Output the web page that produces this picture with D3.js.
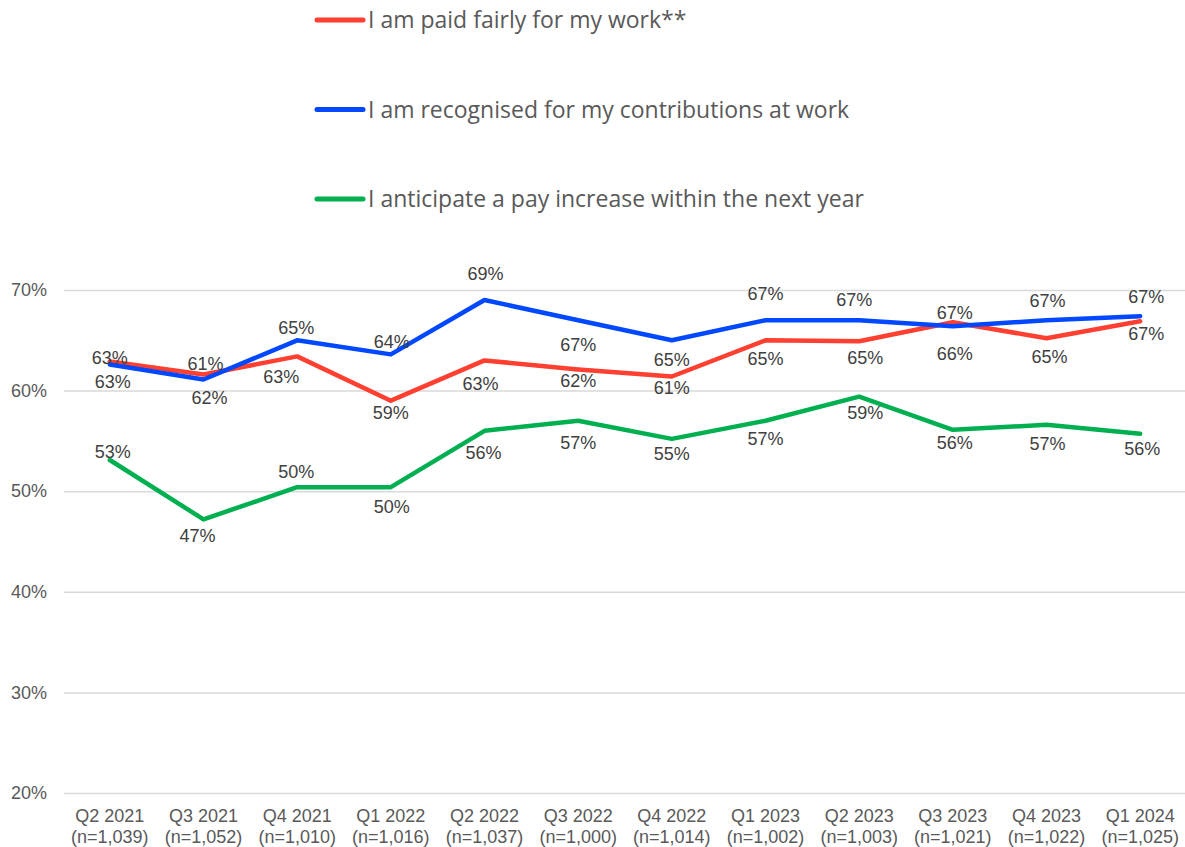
<!DOCTYPE html>
<html>
<head>
<meta charset="utf-8">
<script src="https://cdn.jsdelivr.net/npm/d3@7"></script>
<style>
  html, body { margin: 0; padding: 0; background: #ffffff; }
  svg { display: block; }
</style>
</head>
<body>
<svg id="chart" width="1185" height="847"></svg>
<script>
// Survey quarters and sample sizes
const quarters = ["Q2 2021", "Q3 2021", "Q4 2021", "Q1 2022", "Q2 2022", "Q3 2022",
                  "Q4 2022", "Q1 2023", "Q2 2023", "Q3 2023", "Q4 2023", "Q1 2024"];
const sampleSizes = ["1,039", "1,052", "1,010", "1,016", "1,037", "1,000",
                     "1,014", "1,002", "1,003", "1,021", "1,022", "1,025"];

// Share agreeing with each statement (%)
const paidFairly = [62.9, 61.6, 63.4, 59.0, 63.0, 62.1, 61.4, 65.0, 64.9, 66.8, 65.2, 66.9];
const recognised = [62.6, 61.1, 65.0, 63.6, 69.0, 67.0, 65.0, 67.0, 67.0, 66.4, 67.0, 67.4];
const payIncrease = [53.1, 47.2, 50.4, 50.4, 56.0, 57.0, 55.2, 57.0, 59.4, 56.1, 56.6, 55.7];

const seriesNames = ["I am paid fairly for my work**",
                     "I am recognised for my contributions at work",
                     "I anticipate a pay increase within the next year"];

const yTicks = [20, 30, 40, 50, 60, 70];

// Label nudges (px) so that value labels do not collide: [dx, dy] from the point
const paidFairlyLabelShift = [[0,-4],[6,23],[-16,20],[0,12],[-4,23],[0,11],[0,11],[0,18],[6,16],[2,-9],[3,18],[6,13]];
const recognisedLabelShift = [[3,17],[2,-16],[-1,-13],[1,-13],[1,-26],[0,25],[0,19],[0,-26],[-5,-20],[2,27],[1,-19],[6,-19]];
const payIncreaseLabelShift = [[3,-8],[-6,16],[-1,-15],[1,20],[-1,22],[0,22],[0,15],[0,18],[6,16],[2,13],[1,19],[2,15]];

const colors = ["#ff3f30", "#0048ff", "#00b050"];

const series = [
  { name: seriesNames[0], values: paidFairly, shift: paidFairlyLabelShift, color: colors[0] },
  { name: seriesNames[1], values: recognised, shift: recognisedLabelShift, color: colors[1] },
  { name: seriesNames[2], values: payIncrease, shift: payIncreaseLabelShift, color: colors[2] }
];

const svg = d3.select("#chart");
const axisFont = "'Liberation Sans', Arial, sans-serif";

const x = d3.scaleBand().domain(quarters).range([63, 1187]).padding(0);
const cx = q => x(q) + x.bandwidth() / 2;
const y = d3.scaleLinear().domain([20, 70]).range([793, 290]);

// Horizontal gridlines
const yAxis = d3.axisLeft(y)
  .tickValues(yTicks)
  .tickSize(-(1187 - 64))
  .tickFormat(d => d + "%")
  .tickPadding(17);

const gy = svg.append("g").attr("transform", "translate(64,0)").call(yAxis);
gy.select(".domain").remove();
gy.selectAll(".tick line").attr("stroke", "#d9d9d9").attr("stroke-width", 1.5);
gy.selectAll(".tick text")
  .attr("fill", "#595959")
  .style("font-family", axisFont)
  .style("font-size", "18px");

// Category axis with two-line labels
const xAxis = d3.axisBottom(x).tickSize(0).tickFormat("");
const gx = svg.append("g").attr("transform", "translate(0,793)").call(xAxis);
gx.select(".domain").remove();
gx.selectAll(".tick").each(function(d, i) {
  const t = d3.select(this).append("text")
    .attr("fill", "#595959")
    .attr("text-anchor", "middle")
    .style("font-family", axisFont)
    .style("font-size", "18px");
  t.append("tspan").attr("x", 0).attr("y", 29).text(d);
  t.append("tspan").attr("x", 0).attr("y", 50).text("(n=" + sampleSizes[i] + ")");
});

// Lines
const line = d3.line()
  .x((d, i) => cx(quarters[i]))
  .y(d => y(d))
  .curve(d3.curveLinear);

series.forEach(s => {
  svg.append("path")
    .datum(s.values)
    .attr("fill", "none")
    .attr("stroke", s.color)
    .attr("stroke-width", 4.5)
    .attr("stroke-linejoin", "round")
    .attr("stroke-linecap", "round")
    .attr("d", line);
});

// Value labels
series.forEach(s => {
  svg.append("g").selectAll("text")
    .data(s.values)
    .join("text")
    .attr("x", (d, i) => cx(quarters[i]) + s.shift[i][0])
    .attr("y", (d, i) => y(d) + s.shift[i][1])
    .attr("dy", "0.35em")
    .attr("text-anchor", "middle")
    .attr("fill", "#404040")
    .style("font-family", axisFont)
    .style("font-size", "18px")
    .text(d => Math.round(d) + "%");
});

// Legend
const legendY = d3.scalePoint().domain(seriesNames).range([20, 199]);
const legend = svg.append("g");
series.forEach(s => {
  const ly = legendY(s.name);
  legend.append("line")
    .attr("x1", 317).attr("x2", 363)
    .attr("y1", ly).attr("y2", ly)
    .attr("stroke", s.color)
    .attr("stroke-width", 5)
    .attr("stroke-linecap", "round");
  legend.append("text")
    .attr("x", 368)
    .attr("y", ly + 8)
    .attr("fill", "#595959")
    .style("font-family", "'Open Sans', sans-serif")
    .style("font-size", "23px")
    .text(s.name);
});
</script>
</body>
</html>
